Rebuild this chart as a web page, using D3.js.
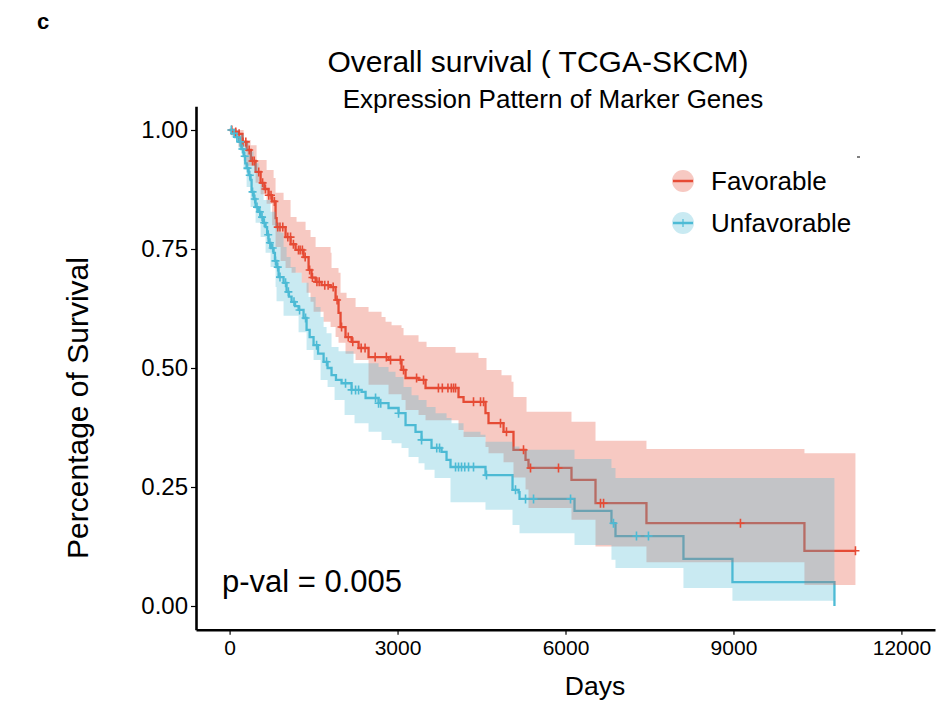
<!DOCTYPE html>
<html>
<head>
<meta charset="utf-8">
<script src="https://cdn.jsdelivr.net/npm/d3@7/dist/d3.min.js"></script>
<style>
body { margin: 0; background: #fff; }
text { font-family: "Liberation Sans", Arial, sans-serif; }
</style>
</head>
<body>
<script>
// Kaplan-Meier steps, Favorable group (days, survival)
var favTime = [0, 100, 160, 230, 304, 380, 464, 554, 620, 696, 760, 821, 840, 1000, 1090, 1179, 1321, 1411, 1464, 1536,
               1643, 1804, 1893, 1946, 1982, 2071, 2179, 2304, 2482, 2839, 3071, 3143, 3375, 3500, 4089, 4179, 4571, 4625,
               4893, 5071, 5286, 5339, 6107, 6536, 7446, 10268];
var favSurv = [1.0, 0.996, 0.992, 0.975, 0.958, 0.935, 0.912, 0.889, 0.876, 0.863, 0.85, 0.815, 0.796, 0.775, 0.76, 0.748, 0.733, 0.706, 0.69, 0.681,
               0.674, 0.67, 0.643, 0.616, 0.586, 0.565, 0.555, 0.542, 0.523, 0.517, 0.496, 0.479, 0.475, 0.458, 0.439, 0.429, 0.405, 0.384,
               0.366, 0.328, 0.307, 0.29, 0.265, 0.216, 0.174, 0.116];
var favEnd = 11179;

// Unfavorable group
var unfTime = [0, 40, 100, 160, 210, 250, 280, 304, 340, 375, 393, 430, 464, 510, 554, 600, 643, 670, 696, 740, 786, 810, 839, 875,
               964, 1018, 1060, 1107, 1170, 1232, 1321, 1375, 1430, 1500, 1580, 1679, 1750, 1821, 1900, 2000, 2179, 2357, 2429, 2661,
               2839, 3018, 3143, 3321, 3429, 3607, 3786, 3875, 3946, 4571, 5054, 5161, 5179, 6161, 6821, 6893, 8107, 8982, 10804];
var unfSurv = [1.0, 0.993, 0.985, 0.975, 0.96, 0.945, 0.93, 0.92, 0.905, 0.895, 0.87, 0.855, 0.838, 0.828, 0.817, 0.805, 0.796, 0.78, 0.763, 0.752, 0.742, 0.725, 0.712, 0.691,
               0.679, 0.66, 0.65, 0.639, 0.63, 0.622, 0.605, 0.58, 0.565, 0.548, 0.53, 0.513, 0.5, 0.485, 0.475, 0.468, 0.454, 0.45, 0.437, 0.426,
               0.416, 0.405, 0.38, 0.366, 0.349, 0.332, 0.324, 0.307, 0.292, 0.275, 0.244, 0.239, 0.225, 0.2, 0.174, 0.147, 0.099, 0.05, 0];
var unfEnd = 10804;

// confidence limits (step functions)
var favUpT = [0, 250, 375, 482, 661, 786, 821, 964, 1089, 1196, 1357, 1446, 1536, 1804, 1821, 1946, 1982, 2089, 2250, 2482, 2714,
              2786, 2893, 3071, 3107, 3375, 3518, 4036, 4446, 4589, 4857, 5036, 5071, 5304, 6107, 6536, 7446, 10268];
var favUpV = [1.0, 0.979, 0.968, 0.937, 0.916, 0.899, 0.868, 0.853, 0.817, 0.807, 0.79, 0.775, 0.754, 0.742, 0.71, 0.70, 0.658, 0.647, 0.628, 0.618, 0.607,
              0.597, 0.59, 0.584, 0.569, 0.555, 0.544, 0.532, 0.521, 0.496, 0.485, 0.471, 0.439, 0.408, 0.387, 0.347, 0.33, 0.321];
var favLoT = [0, 100, 160, 304, 464, 554, 661, 760, 821, 911, 1000, 1107, 1286, 1375, 1446, 1500, 1679, 1804, 1893, 1946, 2071, 2250,
              2482, 2839, 3071, 3143, 3375, 3500, 4089, 4179, 4571, 4625, 4893, 5071, 5286, 5339, 6107, 6536, 7446, 10268];
var favLoV = [1.0, 0.985, 0.965, 0.925, 0.889, 0.865, 0.845, 0.8, 0.754, 0.725, 0.71, 0.70, 0.679, 0.658, 0.639, 0.618, 0.597, 0.586, 0.565, 0.553, 0.53, 0.517,
              0.465, 0.445, 0.433, 0.412, 0.401, 0.39, 0.37, 0.355, 0.334, 0.321, 0.302, 0.27, 0.245, 0.206, 0.181, 0.125, 0.092, 0.044];

var unfUpT = [0, 161, 250, 339, 429, 518, 607, 732, 821, 911, 964, 1018, 1089, 1179, 1286, 1411, 1536, 1625, 1679, 1732, 1821, 1946,
              2214, 2661, 2839, 2964, 3107, 3250, 3375, 3518, 3679, 3875, 3964, 4179, 4482, 4571, 5054, 5179, 6161, 6821, 6893];
var unfUpV = [1.0, 0.99, 0.975, 0.955, 0.93, 0.89, 0.853, 0.828, 0.805, 0.784, 0.754, 0.733, 0.712, 0.70, 0.679, 0.649, 0.628, 0.607, 0.586, 0.573, 0.544, 0.535,
              0.51, 0.502, 0.492, 0.481, 0.46, 0.443, 0.433, 0.418, 0.405, 0.395, 0.384, 0.366, 0.36, 0.345, 0.335, 0.328, 0.309, 0.29, 0.269];
var unfLoT = [0, 36, 161, 250, 304, 375, 464, 554, 643, 732, 821, 839, 964, 1232, 1375, 1500, 1625, 1750, 1875, 2054, 2232, 2482,
              2714, 2893, 3071, 3196, 3375, 3482, 3661, 3946, 4571, 5054, 5179, 6161, 6821, 6893, 8107, 8982];
var unfLoV = [1.0, 0.985, 0.958, 0.916, 0.88, 0.838, 0.805, 0.775, 0.742, 0.712, 0.67, 0.64, 0.61, 0.575, 0.538, 0.517, 0.475, 0.46, 0.433, 0.401, 0.384, 0.366,
              0.349, 0.342, 0.332, 0.313, 0.3, 0.286, 0.269, 0.218, 0.202, 0.17, 0.153, 0.128, 0.097, 0.08, 0.038, 0.011];

// censored times
var favCens = [40, 110, 170, 240, 290, 350, 410, 440, 520, 590, 640, 700, 740, 800, 860, 900, 950, 1040, 1089, 1140, 1230, 1260, 1300,
               1350, 1430, 1480, 1560, 1600, 1700, 1760, 1850, 1920, 2000, 2120, 2200, 2350, 2420, 2600, 2800, 2875, 3050, 3107, 3340,
               3464, 3730, 3800, 3900, 3960, 4000, 4036, 4357, 4482, 4536, 4839, 4946, 5250, 5375, 5875, 6625, 6680, 9125, 11179];
var unfCens = [30, 80, 130, 190, 230, 270, 320, 360, 410, 450, 490, 540, 580, 620, 690, 720, 770, 820, 860, 900, 1000, 1050, 1150,
               1250, 1357, 1554, 1732, 2071, 2179, 2250, 2304, 2607, 2661, 2700, 3018, 3429, 3700, 3750, 4036, 4089, 4143, 4200, 4268,
               4357, 4589, 5107, 5286, 5429, 6090, 6857, 7268, 7482];

var xTicks = [0, 3000, 6000, 9000, 12000];
var yTicks = [0, 0.25, 0.5, 0.75, 1];

var red = "#E64B35", blue = "#4DBBD5";
var w = 940, h = 702;

var svg = d3.select("body").append("svg")
            .attr("width", w)
            .attr("height", h);

var x = d3.scaleLinear().domain([-600, 12600]).range([196, 935]);
var y = d3.scaleLinear().domain([-0.05, 1.05]).range([629.8, 106.2]);

function stepAt(ts, vs, t) {
  var i = d3.bisectRight(ts, t) - 1;
  return vs[Math.max(i, 0)];
}

function curvePts(ts, vs, end) {
  var pts = ts.map(function(t, i) { return [t, vs[i]]; });
  if (end > ts[ts.length - 1]) pts.push([end, vs[vs.length - 1]]);
  return pts;
}

function bandPts(upT, upV, loT, loV, end) {
  var ts = Array.from(new Set(upT.concat(loT))).sort(d3.ascending);
  var pts = ts.map(function(t) {
    return { t: t, lo: stepAt(loT, loV, t), hi: stepAt(upT, upV, t) };
  });
  var last = pts[pts.length - 1];
  pts.push({ t: end, lo: last.lo, hi: last.hi });
  return pts;
}

var line = d3.line()
  .x(function(d) { return x(d[0]); })
  .y(function(d) { return y(d[1]); })
  .curve(d3.curveStepAfter);

var area = d3.area()
  .x(function(d) { return x(d.t); })
  .y0(function(d) { return y(d.lo); })
  .y1(function(d) { return y(d.hi); })
  .curve(d3.curveStepAfter);

// survival lines
svg.append("path")
   .attr("d", line(curvePts(favTime, favSurv, favEnd)))
   .attr("fill", "none").attr("stroke", red).attr("stroke-width", 2.3);
svg.append("path")
   .attr("d", line(curvePts(unfTime, unfSurv, unfEnd)))
   .attr("fill", "none").attr("stroke", blue).attr("stroke-width", 2.3);

// confidence ribbons
svg.append("path")
   .attr("d", area(bandPts(favUpT, favUpV, favLoT, favLoV, favEnd)))
   .attr("fill", red).attr("fill-opacity", 0.3);
svg.append("path")
   .attr("d", area(bandPts(unfUpT, unfUpV, unfLoT, unfLoV, unfEnd)))
   .attr("fill", blue).attr("fill-opacity", 0.3);

// censor marks
function censor(times, ts, vs, col) {
  svg.append("g").selectAll("path")
     .data(times)
     .enter()
     .append("path")
     .attr("d", function(t) {
        var cx = x(t), cy = y(stepAt(ts, vs, t));
        return "M" + (cx - 4) + "," + cy + "H" + (cx + 4) + "M" + cx + "," + (cy - 4.5) + "V" + (cy + 4.5);
      })
     .attr("stroke", col)
     .attr("stroke-width", 1.6);
}
censor(favCens, favTime, favSurv, red);
censor(unfCens, unfTime, unfSurv, blue);

// axes
var yAxis = svg.append("g")
  .attr("transform", "translate(196,0)")
  .call(d3.axisLeft(y).tickValues(yTicks).tickFormat(d3.format(".2f")).tickSize(5).tickSizeOuter(0));
var xAxis = svg.append("g")
  .attr("transform", "translate(0,629.8)")
  .call(d3.axisBottom(x).tickValues(xTicks).tickFormat(d3.format("d")).tickSize(5).tickSizeOuter(0));

[yAxis, xAxis].forEach(function(a) {
  a.select(".domain").attr("stroke", "#000").attr("stroke-width", 2.6);
  a.selectAll(".tick line").attr("stroke", "#000").attr("stroke-width", 1.2);
  a.selectAll(".tick text")
   .attr("font-family", "Liberation Sans, Arial, sans-serif")
   .attr("font-size", "21px")
   .attr("fill", "#000");
});
yAxis.selectAll(".tick text").attr("x", -8).attr("font-size", "24px");
xAxis.selectAll(".tick text").attr("y", 10);

// titles
svg.append("text")
   .attr("x", 538).attr("y", 72)
   .attr("text-anchor", "middle")
   .attr("font-size", "30px")
   .text("Overall survival ( TCGA-SKCM)");
svg.append("text")
   .attr("x", 553).attr("y", 108)
   .attr("text-anchor", "middle")
   .attr("font-size", "26px")
   .text("Expression Pattern of Marker Genes");
svg.append("text")
   .attr("x", 37).attr("y", 29)
   .attr("font-family", "Open Sans, sans-serif")
   .attr("font-weight", "bold")
   .attr("font-size", "22px")
   .text("c");

svg.append("text")
   .attr("x", 595).attr("y", 695)
   .attr("text-anchor", "middle")
   .attr("font-size", "26.5px")
   .text("Days");
svg.append("text")
   .attr("transform", "translate(88,408) rotate(-90)")
   .attr("text-anchor", "middle")
   .attr("font-size", "30px")
   .text("Percentage of Survival");

svg.append("text")
   .attr("x", 222).attr("y", 592)
   .attr("font-size", "31px")
   .text("p-val = 0.005");

// legend
var legend = [{ name: "Favorable", col: red, tick: false },
              { name: "Unfavorable", col: blue, tick: true }];
var lg = svg.append("g").selectAll("g")
  .data(legend)
  .enter()
  .append("g")
  .attr("transform", function(d, i) { return "translate(683," + (181 + i * 42) + ")"; });
lg.append("circle").attr("r", 11).attr("fill", function(d) { return d.col; }).attr("fill-opacity", 0.3);
lg.append("line").attr("x1", -10).attr("x2", 10)
  .attr("stroke", function(d) { return d.col; }).attr("stroke-width", 2.5);
lg.filter(function(d) { return d.tick; })
  .append("line").attr("y1", -4).attr("y2", 4)
  .attr("stroke", function(d) { return d.col; }).attr("stroke-width", 1.2);
lg.append("text")
  .attr("x", 28).attr("y", 9)
  .attr("font-family", "Open Sans, sans-serif")
  .attr("font-size", "26px")
  .text(function(d) { return d.name; });
svg.append("line").attr("x1", 857).attr("x2", 860).attr("y1", 157).attr("y2", 157)
   .attr("stroke", "#000").attr("stroke-width", 1);
</script>
</body>
</html>
